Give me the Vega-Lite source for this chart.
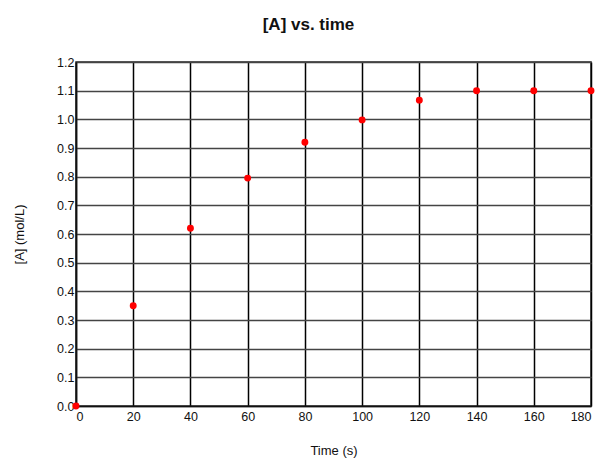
{
  "$schema": "https://vega.github.io/schema/vega-lite/v6.json",
  "width": 515,
  "height": 344,
  "autosize": {"type": "none"},
  "padding": {"left": 76, "top": 62, "right": 12, "bottom": 54},
  "background": "white",
  "title": {
    "text": "[A] vs. time",
    "font": "Liberation Sans",
    "fontSize": 17,
    "fontWeight": "bold",
    "color": "#111",
    "anchor": "middle",
    "dx": -25,
    "offset": 22
  },
  "config": {
    "view": {"stroke": "#222", "strokeWidth": 1.5},
    "axis": {
      "labelFont": "Liberation Sans",
      "labelFontSize": 12.5,
      "labelColor": "#111",
      "titleFont": "Liberation Sans",
      "titleFontSize": 13,
      "titleFontWeight": "normal",
      "titleColor": "#111",
      "ticks": false,
      "domainColor": "#111",
      "domainWidth": 1.5,
      "gridWidth": 1.5,
      "gridOpacity": 1
    }
  },
  "data": {
    "values": [
      {"t": 0, "A": 0.0},
      {"t": 20, "A": 0.35},
      {"t": 40, "A": 0.62},
      {"t": 60, "A": 0.795},
      {"t": 80, "A": 0.92},
      {"t": 100, "A": 0.998},
      {"t": 120, "A": 1.067},
      {"t": 140, "A": 1.1},
      {"t": 160, "A": 1.1},
      {"t": 180, "A": 1.1}
    ]
  },
  "mark": {"type": "circle", "color": "#ff0000", "size": 48, "opacity": 1},
  "encoding": {
    "x": {
      "field": "t",
      "type": "quantitative",
      "scale": {"domain": [0, 180], "nice": false},
      "axis": {"title": "Time (s)", "values": [0,20,40,60,80,100,120,140,160,180], "gridColor": "#000", "labelPadding": 4, "titlePadding": 22}
    },
    "y": {
      "field": "A",
      "type": "quantitative",
      "scale": {"domain": [0, 1.2], "nice": false},
      "axis": {"title": "[A] (mol/L)", "values": [0,0.1,0.2,0.3,0.4,0.5,0.6,0.7,0.8,0.9,1.0,1.1,1.2], "format": ".1f", "gridColor": "#444", "labelPadding": 2, "titlePadding": 30}
    }
  }
}
